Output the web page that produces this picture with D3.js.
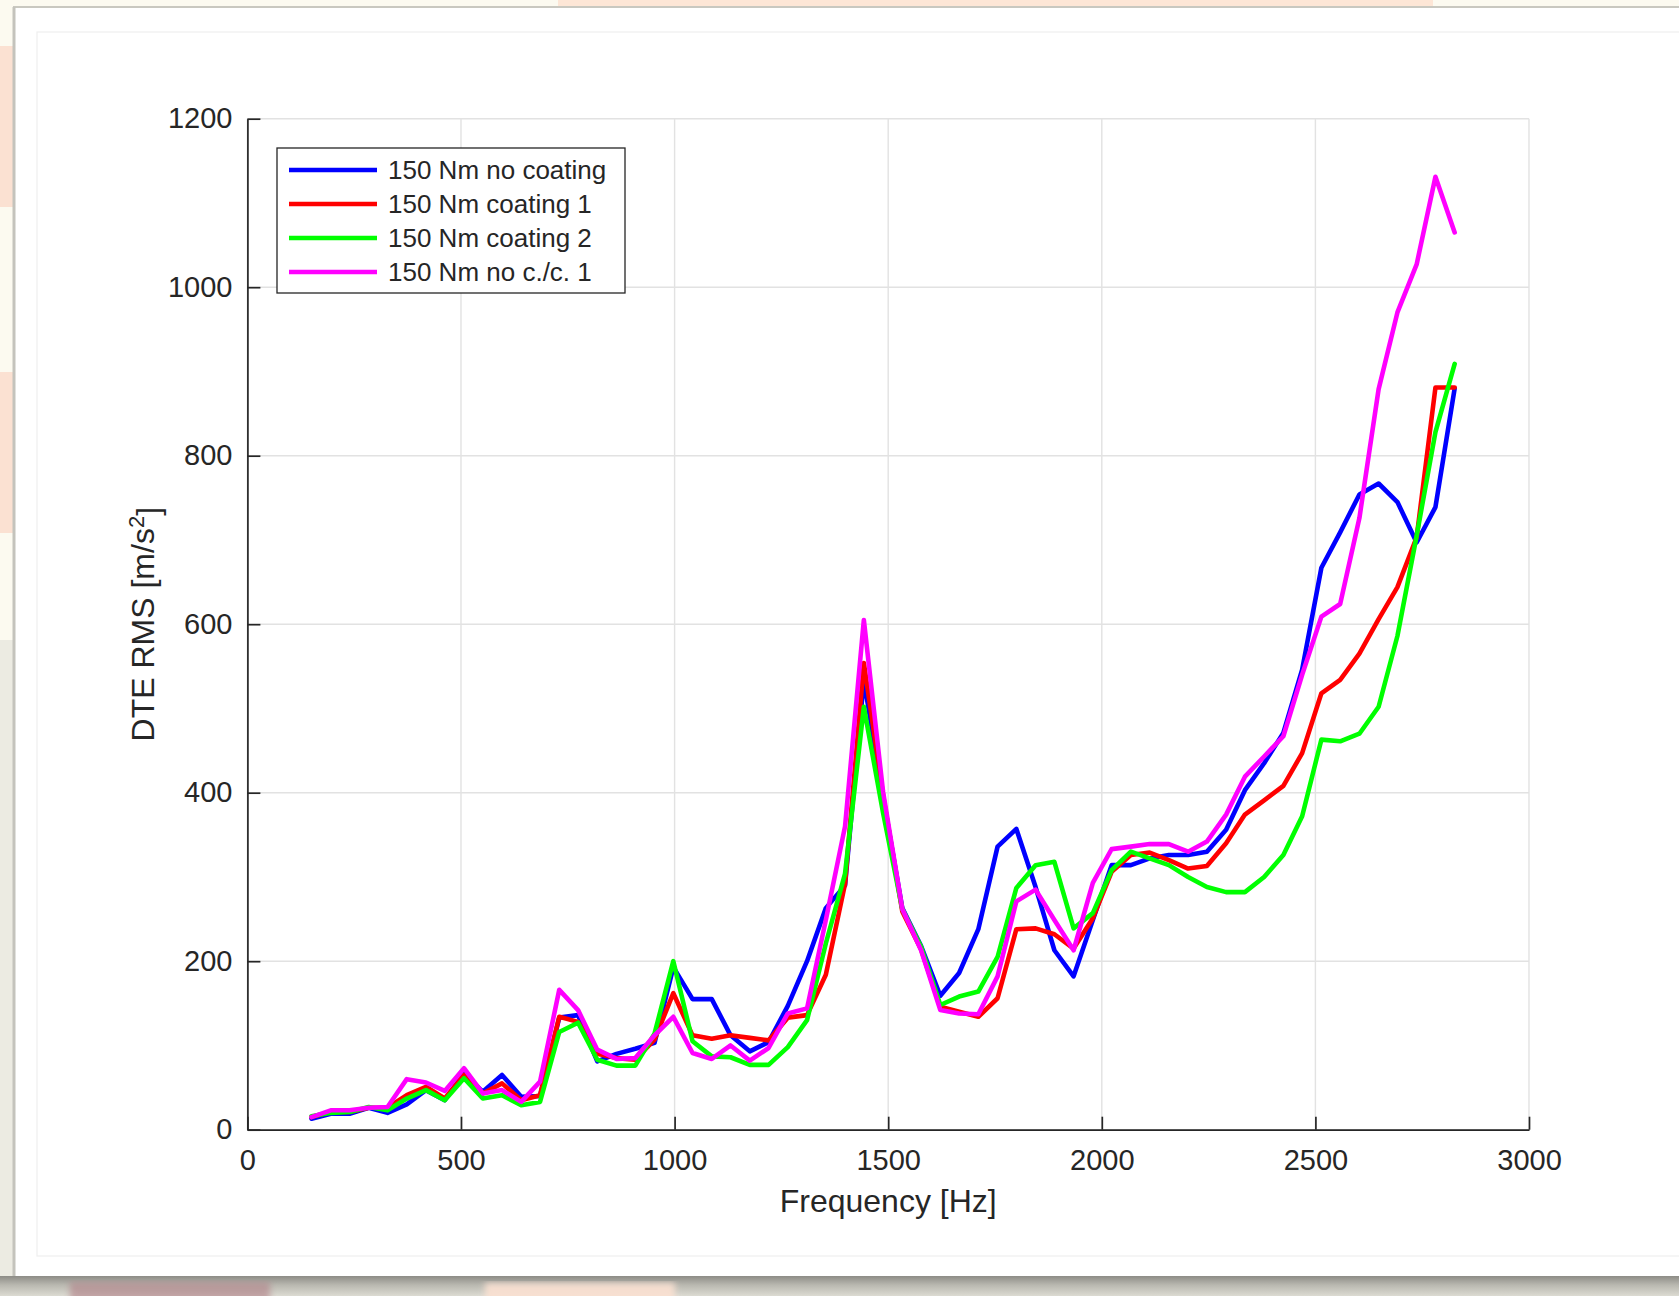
<!DOCTYPE html>
<html>
<head>
<meta charset="utf-8">
<script src="https://cdn.jsdelivr.net/npm/d3@7"></script>
<style>
  html, body { margin: 0; padding: 0; background: #fcfaf0; }
  svg { display: block; }
  text { font-family: "Liberation Sans", Arial, Helvetica, sans-serif; fill: #262626; }
</style>
</head>
<body>
<svg id="chart"></svg>
<script>

// frequency points [Hz]
var freqHz = [150, 195, 239, 284, 328, 373, 418, 462, 507, 551,
              596, 641, 685, 730, 774, 819, 864, 908, 953, 997,
              1042, 1087, 1131, 1176, 1220, 1265, 1310, 1354, 1399, 1443,
              1488, 1533, 1577, 1622, 1666, 1711, 1756, 1800, 1845, 1889,
              1934, 1979, 2023, 2068, 2112, 2157, 2202, 2246, 2291, 2335,
              2380, 2425, 2469, 2514, 2558, 2603, 2648, 2692, 2737, 2781, 2826];

// DTE RMS [m/s^2]
var dteNoCoating = [13, 19, 19, 26, 20, 30, 47, 35, 67, 45,
                    65, 39, 40, 133, 136, 81, 90, 96, 103, 193,
                    155, 155, 112, 93, 104, 147, 200, 263, 290, 534,
                    395, 263, 218, 159, 186, 238, 336, 357, 288, 213,
                    182, 249, 314, 314, 322, 326, 326, 330, 356, 403,
                    435, 471, 546, 667, 709, 754, 767, 745, 697, 739, 880];

var dteCoating1 = [15, 21, 21, 26, 26, 41, 51, 37, 65, 43,
                   55, 35, 41, 134, 128, 90, 85, 83, 107, 162,
                   112, 108, 112, 109, 106, 133, 136, 184, 292, 554,
                   397, 259, 214, 146, 140, 134, 156, 238, 239, 232,
                   215, 251, 306, 326, 329, 320, 310, 313, 340, 374,
                   391, 408, 447, 518, 534, 565, 606, 644, 703, 881, 881];

var dteCoating2 = [16, 20, 21, 27, 23, 37, 47, 35, 61, 37,
                   41, 29, 33, 116, 127, 83, 76, 76, 114, 200,
                   105, 87, 86, 77, 77, 98, 130, 221, 304, 502,
                   376, 262, 217, 148, 158, 164, 205, 287, 314, 318,
                   239, 257, 308, 330, 322, 314, 300, 288, 282, 282,
                   300, 326, 372, 463, 461, 470, 502, 586, 705, 828, 909];

var dteNoCC1 = [15, 23, 23, 26, 27, 60, 56, 46, 73, 43,
                47, 33, 57, 166, 142, 95, 84, 85, 112, 134,
                91, 84, 100, 82, 97, 138, 144, 249, 360, 605,
                401, 262, 213, 142, 138, 137, 182, 271, 285, 249,
                213, 293, 333, 336, 339, 339, 330, 342, 374, 419,
                443, 467, 540, 609, 624, 726, 879, 970, 1027, 1131, 1065];

var seriesNames = ['150 Nm no coating', '150 Nm coating 1', '150 Nm coating 2', '150 Nm no c./c. 1'];
var seriesColors = ['#0000ff', '#ff0000', '#00ff00', '#ff00ff'];

var xTicks = [0, 500, 1000, 1500, 2000, 2500, 3000];
var yTicks = [0, 200, 400, 600, 800, 1000, 1200];


var W = 1679, H = 1296;

var svg = d3.select('#chart')
  .attr('width', W)
  .attr('height', H);

// --- photo-like backdrop around the figure card
var bg = svg.append('g');
bg.append('rect').attr('x', 0).attr('y', 0).attr('width', W).attr('height', H).attr('fill', '#fcfaf0');
bg.append('rect').attr('x', 558).attr('y', 0).attr('width', 875).attr('height', 7).attr('fill', '#fde6d6');
bg.append('rect').attr('x', 0).attr('y', 46).attr('width', 13).attr('height', 161).attr('fill', '#fbe1d2');
bg.append('rect').attr('x', 0).attr('y', 372).attr('width', 13).attr('height', 161).attr('fill', '#fbe1d2');
bg.append('rect').attr('x', 0).attr('y', 640).attr('width', 13).attr('height', 656).attr('fill', '#ecebe2');

var defs = svg.append('defs');
var grad = defs.append('linearGradient').attr('id', 'shadow').attr('x1', 0).attr('y1', 0).attr('x2', 0).attr('y2', 1);
grad.append('stop').attr('offset', '0%').attr('stop-color', '#8d8c86');
grad.append('stop').attr('offset', '45%').attr('stop-color', '#b9b8b0');
grad.append('stop').attr('offset', '100%').attr('stop-color', '#dcdbd2');
defs.append('filter').attr('id', 'blur').append('feGaussianBlur').attr('stdDeviation', 3);

bg.append('rect').attr('x', 0).attr('y', 1276).attr('width', W).attr('height', 20).attr('fill', 'url(#shadow)');
bg.append('rect').attr('x', 70).attr('y', 1282).attr('width', 200).attr('height', 20)
  .attr('fill', '#b07f86').attr('opacity', 0.6).attr('filter', 'url(#blur)');
bg.append('rect').attr('x', 485).attr('y', 1283).attr('width', 190).attr('height', 20)
  .attr('fill', '#fbe1d2').attr('opacity', 0.9).attr('filter', 'url(#blur)');

// card
bg.append('rect').attr('x', 13).attr('y', 7).attr('width', W - 13).attr('height', 1269)
  .attr('fill', '#ffffff');
bg.append('line').attr('x1', 13).attr('x2', W).attr('y1', 7).attr('y2', 7)
  .attr('stroke', '#c9c8c0').attr('stroke-width', 2);
bg.append('line').attr('x1', 14).attr('x2', 14).attr('y1', 7).attr('y2', 1276)
  .attr('stroke', '#c4c3bc').attr('stroke-width', 3);
bg.append('rect').attr('x', 37).attr('y', 32).attr('width', W - 37 + 2).attr('height', 1224)
  .attr('fill', 'none').attr('stroke', '#efefef').attr('stroke-width', 1.2);

// --- axes
var x = d3.scaleLinear().domain([0, 3000]).range([247.4, 1529]);
var y = d3.scaleLinear().domain([0, 1200]).range([1129.7, 118.7]);

var plot = svg.append('g');

// grid
plot.append('g').selectAll('line.vg')
  .data(xTicks)
  .enter().append('line')
    .attr('x1', function(d){ return x(d); })
    .attr('x2', function(d){ return x(d); })
    .attr('y1', y(0))
    .attr('y2', y(1200))
    .attr('stroke', '#e2e2e2')
    .attr('stroke-width', 1.4);

plot.append('g').selectAll('line.hg')
  .data(yTicks)
  .enter().append('line')
    .attr('x1', x(0))
    .attr('x2', x(3000))
    .attr('y1', function(d){ return y(d); })
    .attr('y2', function(d){ return y(d); })
    .attr('stroke', '#e2e2e2')
    .attr('stroke-width', 1.4);

var xAxis = d3.axisBottom(x)
  .tickValues(xTicks)
  .tickFormat(d3.format('d'))
  .tickSizeInner(-13)
  .tickSizeOuter(0)
  .tickPadding(20);

var yAxis = d3.axisLeft(y)
  .tickValues(yTicks)
  .tickFormat(d3.format('d'))
  .tickSizeInner(-13)
  .tickSizeOuter(0)
  .tickPadding(15);

var gx = plot.append('g').attr('transform', 'translate(0,' + y(0) + ')').call(xAxis);
var gy = plot.append('g').attr('transform', 'translate(' + x(0) + ',0)').call(yAxis);

[gx, gy].forEach(function(g){
  g.select('.domain').attr('stroke', '#262626').attr('stroke-width', 1.7);
  g.selectAll('.tick line').attr('stroke', '#262626').attr('stroke-width', 1.7);
  g.selectAll('.tick text')
    .attr('fill', '#262626')
    .style('font-family', '"Liberation Sans", Arial, Helvetica, sans-serif')
    .style('font-size', '29px');
});

// axis labels
plot.append('text')
  .attr('x', (x(0) + x(3000)) / 2)
  .attr('y', 1212)
  .attr('text-anchor', 'middle')
  .style('font-size', '32px')
  .text('Frequency [Hz]');

var ylab = plot.append('text')
  .attr('transform', 'translate(154,' + ((y(0) + y(1200)) / 2) + ') rotate(-90)')
  .attr('text-anchor', 'middle')
  .style('font-size', '32px');
ylab.append('tspan').text('DTE RMS [m/s');
ylab.append('tspan').attr('dy', '-0.45em').style('font-size', '22px').text('2');
ylab.append('tspan').attr('dy', '0.45em').text(']');

// --- data lines
var series = [dteNoCoating, dteCoating1, dteCoating2, dteNoCC1];

var line = d3.line()
  .x(function(d, i){ return x(freqHz[i]); })
  .y(function(d){ return y(d); });

plot.append('g').selectAll('path.series')
  .data(series)
  .enter().append('path')
    .attr('class', 'series')
    .attr('d', line)
    .attr('fill', 'none')
    .attr('stroke', function(d, i){ return seriesColors[i]; })
    .attr('stroke-width', 4.6)
    .attr('stroke-linejoin', 'round')
    .attr('stroke-linecap', 'round');

// --- legend
var legend = plot.append('g').attr('transform', 'translate(277,148)');
legend.append('rect')
  .attr('x', 0).attr('y', 0)
  .attr('width', 348).attr('height', 145)
  .attr('fill', '#ffffff')
  .attr('stroke', '#262626')
  .attr('stroke-width', 1.3);

var rows = legend.selectAll('g.row')
  .data(seriesNames)
  .enter().append('g')
    .attr('class', 'row')
    .attr('transform', function(d, i){ return 'translate(0,' + (22 + i * 34) + ')'; });

rows.append('line')
  .attr('x1', 12).attr('x2', 100)
  .attr('y1', 0).attr('y2', 0)
  .attr('stroke', function(d, i){ return seriesColors[i]; })
  .attr('stroke-width', 4.6);

rows.append('text')
  .attr('x', 111)
  .attr('y', 0)
  .attr('dy', '0.35em')
  .style('font-size', '26px')
  .text(function(d){ return d; });

</script>
</body>
</html>
